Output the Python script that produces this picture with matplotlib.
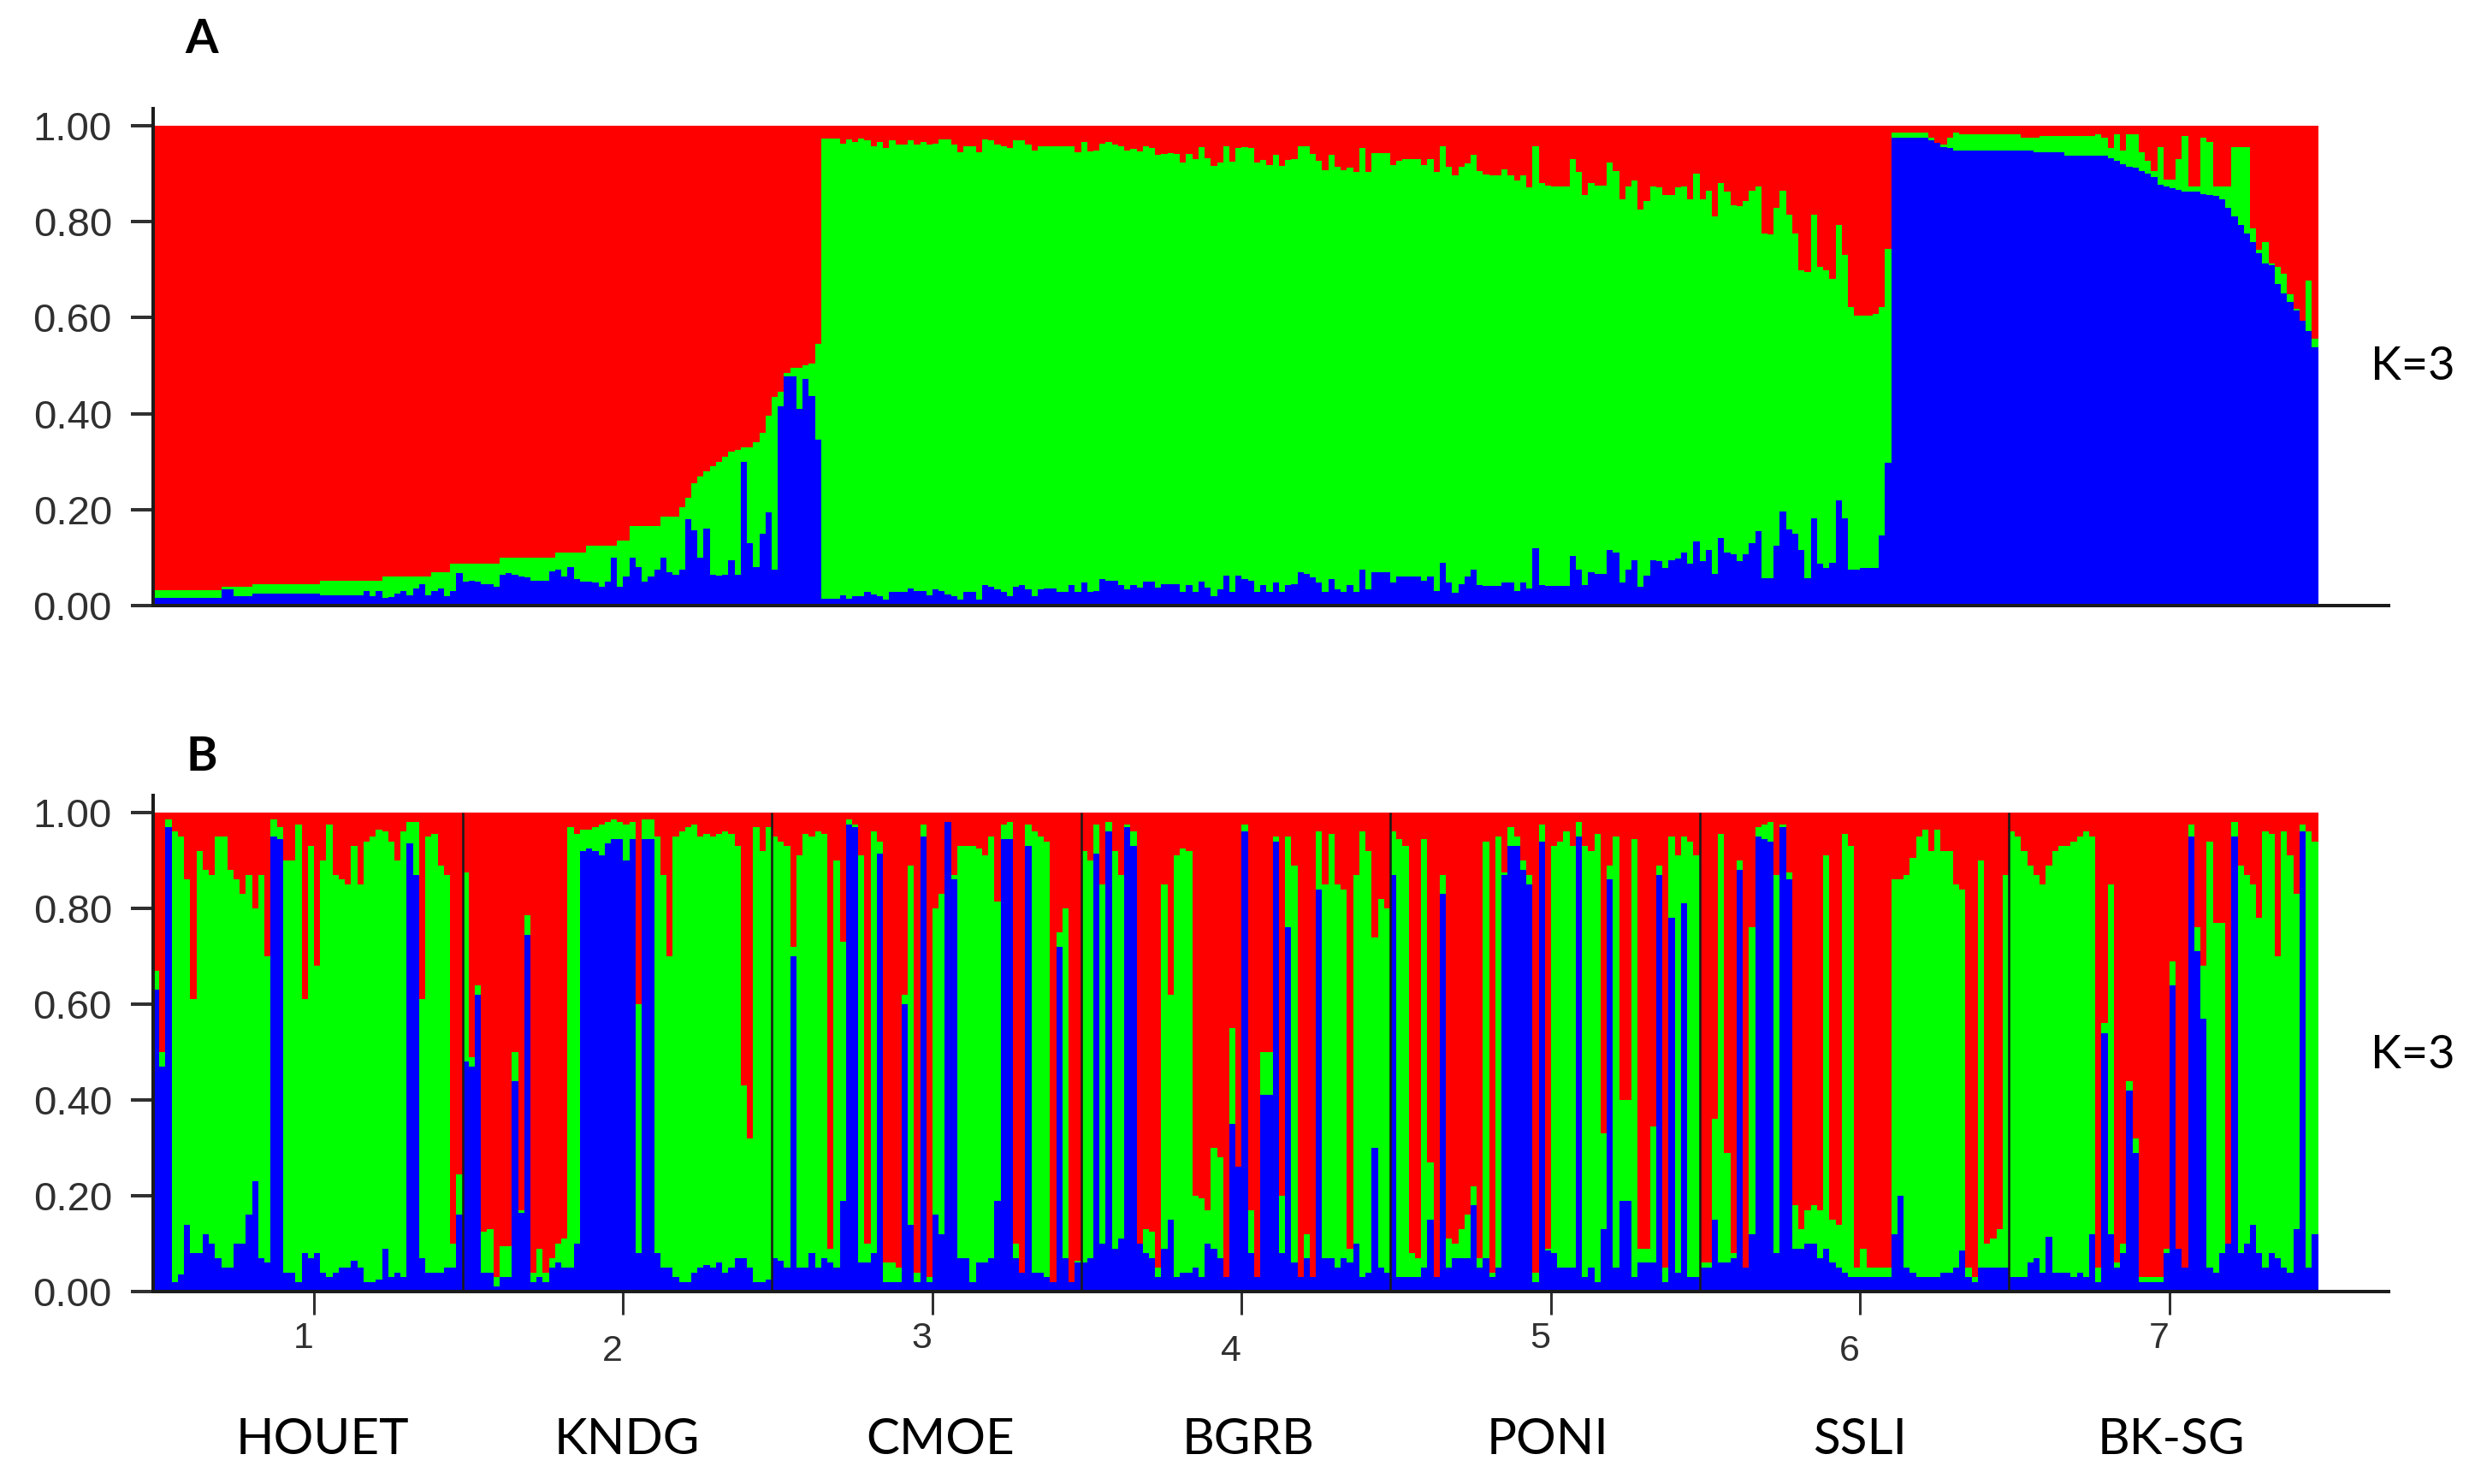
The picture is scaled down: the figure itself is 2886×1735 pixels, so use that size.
import numpy as np
import matplotlib
matplotlib.use("Agg")
import matplotlib.pyplot as plt

# ---------- Panel A: sorted membership (350 individuals) ----------
a_blue_cluster1 = [
 .016,.016,.016,.016,.016,.016,.016,.016,.016,.016,.016,.034,.034,.020,.020,.020,.025,.025,.025,.025,.025,
 .025,.025,.025,.025,.025,.025,.021,.021,.021,.021,.021,.021,.021,.030,.020,.030,.016,.018,.025,.030,
 .022,.035,.045,.022,.030,.035,.020,.030,.067,.050,.052,.050,.045,.045,.040,.065,.067,.065,.060,.058,
 .052,.052,.052,.072,.074,.060,.080,.055,.050,.050,.048,.040,.050,.100,.040,.060,.100,.080,.050,.060,
 .075,.100,.070,.065,.075,.180,.157,.100,.160,.065,.063,.065,.095,.065,.300,.130,.080,.150,.195,.075,
 .415,.477,.477,.410,.473,.437,.346]
a_green_cluster1 = [
 .032,.032,.032,.032,.032,.032,.032,.032,.032,.032,.032,.039,.039,.039,.039,.039,.045,.045,.045,.045,.045,
 .045,.045,.045,.045,.045,.045,.052,.052,.052,.052,.052,.052,.052,.052,.052,.052,.060,.060,.060,.060,
 .060,.060,.060,.060,.070,.070,.070,.087,.087,.087,.087,.087,.087,.087,.087,.100,.100,.100,.100,.100,
 .100,.100,.100,.100,.110,.110,.110,.110,.110,.125,.125,.125,.125,.125,.136,.136,.165,.165,.165,.165,
 .165,.185,.185,.185,.205,.225,.255,.270,.280,.290,.300,.310,.320,.325,.330,.330,.340,.360,.395,.435,
 .445,.485,.495,.495,.500,.505,.545]
a_blue_cluster2 = [
 .014,.014,.014,.022,.014,.020,.020,.028,.024,.020,.013,.028,.028,.028,.035,.030,.030,.022,.034,.031,
 .024,.020,.013,.028,.028,.013,.043,.040,.034,.028,.020,.040,.043,.034,.020,.034,.036,.036,.028,.028,
 .043,.028,.049,.028,.031,.056,.052,.052,.043,.034,.043,.037,.050,.050,.037,.044,.044,.044,.028,.043,
 .028,.050,.037,.020,.034,.063,.028,.063,.055,.052,.028,.043,.028,.049,.028,.043,.044,.069,.066,.058,
 .049,.028,.056,.034,.028,.043,.028,.075,.034,.069,
 .069,.069,.048,.060,.060,.060,.060,.051,.060,.030,.090,.048,.027,.045,.060,.075,.042,.041,.041,.041,
 .048,.048,.030,.048,.036,.119,.042,.041,.041,.041,.041,.104,.075,.042,.069,.066,.066,.116,.110,.048,
 .075,.095,.039,.063,.095,.093,.078,.095,.098,.110,.087,.134,.093,.116,.066,.140,.110,.107,.093,.107,
 .131,.155,.057,.057,.125,.196,.158,.149,.116,.057,.181,.087,.078,.090,.220,.181,.075,.075,.078,.078,
 .078,.147,.297]
a_green_cluster2 = [
 .973,.973,.973,.963,.972,.966,.973,.970,.958,.967,.954,.969,.960,.960,.969,.960,.967,.960,.963,.972,
 .972,.960,.945,.957,.957,.945,.972,.970,.960,.957,.954,.969,.970,.960,.948,.957,.957,.957,.957,.957,
 .957,.945,.967,.947,.949,.963,.966,.960,.957,.948,.951,.947,.957,.954,.939,.941,.943,.942,.924,.942,
 .931,.955,.933,.917,.924,.958,.925,.954,.955,.954,.924,.929,.918,.939,.917,.929,.930,.958,.958,.942,
 .927,.907,.939,.915,.907,.912,.903,.954,.903,.943,
 .943,.943,.918,.927,.930,.930,.930,.918,.930,.903,.958,.915,.897,.915,.921,.939,.906,.899,.896,.896,
 .909,.897,.886,.896,.871,.957,.880,.875,.874,.874,.874,.930,.903,.856,.880,.875,.875,.924,.906,.847,
 .874,.886,.826,.844,.874,.871,.856,.856,.871,.874,.846,.900,.846,.865,.811,.880,.862,.835,.832,.844,
 .865,.874,.776,.773,.829,.865,.814,.776,.699,.696,.814,.705,.699,.681,.794,.731,.622,.604,.604,.604,
 .607,.622,.743]
a_blue_cluster3 = [
 .975,.975,.975,.975,.975,.975,.969,.964,.956,.954,.949,.949,.949,.949,.949,.949,.949,.949,.949,
 .949,.949,.949,.949,.944,.944,.944,.944,.944,.938,.938,.938,.938,.938,.938,.938,.932,.927,.920,.915,
 .913,.906,.900,.893,.877,.873,.869,.866,.862,.862,.862,.857,.855,.853,.847,.829,.811,.793,.775,.757,
 .735,.713,.710,.670,.651,.633,.615,.593,.572,.539]
a_green_cluster3 = [
 .985,.985,.985,.985,.985,.985,.975,.964,.960,.975,.985,.983,.983,.983,.983,.983,.983,.983,.983,
 .983,.983,.975,.975,.975,.978,.978,.978,.978,.978,.978,.978,.978,.978,.983,.975,.953,.983,.949,.983,
 .983,.945,.927,.906,.956,.887,.887,.931,.978,.873,.873,.975,.967,.873,.873,.873,.956,.956,.956,.786,
 .742,.757,.713,.706,.691,.648,.619,.590,.677,.557]

# ---------- Panel B: membership per population (50 individuals each) ----------
b_blue_houet = [.63,.47,.97,.02,.035,.14,.08,.08,.12,.10,.07,.05,.05,.10,.10,.16,.23,.07,.06,.95,
                .945,.04,.04,.02,.08,.07,.08,.04,.03,.04,.05,.05,.065,.05,.02,.02,.025,.09,.03,.04,
                .03,.935,.87,.07,.04,.04,.04,.05,.05,.16]
b_green_houet = [.67,.50,.985,.96,.95,.86,.61,.92,.88,.87,.95,.95,.88,.86,.83,.87,.80,.87,.70,.985,
                 .97,.90,.90,.975,.61,.93,.68,.90,.975,.87,.86,.85,.93,.85,.94,.95,.965,.96,.94,.90,
                 .96,.98,.98,.61,.95,.955,.89,.87,.10,.245]
b_blue_kndg = [.48,.47,.62,.04,.04,.01,.03,.03,.44,.165,.745,.02,.03,.02,.05,.06,.05,.05,.10,.92,
               .925,.92,.91,.935,.945,.945,.90,.945,.08,.945,.945,.08,.05,.05,.03,.02,.02,.04,.05,.055,
               .05,.06,.04,.05,.07,.07,.05,.02,.02,.025]
b_green_kndg = [.875,.49,.64,.125,.13,.03,.095,.095,.50,.17,.785,.04,.09,.04,.07,.10,.11,.97,.955,.965,
                .965,.97,.975,.98,.985,.98,.975,.98,.60,.985,.985,.95,.87,.70,.95,.96,.97,.975,.95,.955,
                .95,.955,.96,.955,.93,.43,.32,.97,.92,.97]
b_blue_cmoe = [.07,.065,.05,.70,.05,.05,.08,.05,.07,.06,.05,.19,.975,.97,.06,.06,.08,.915,.02,.02,
               .02,.60,.14,.02,.95,.02,.16,.12,.98,.86,.07,.07,.02,.06,.06,.07,.19,.945,.945,.07,
               .04,.93,.04,.04,.03,.02,.72,.07,.02,.06]
b_green_cmoe = [.95,.94,.93,.72,.91,.955,.95,.96,.955,.09,.90,.73,.985,.975,.91,.10,.96,.94,.06,.06,
                .05,.62,.89,.04,.975,.03,.80,.83,.98,.87,.93,.93,.93,.925,.91,.95,.815,.975,.98,.10,
                .04,.975,.96,.95,.94,.02,.75,.80,.02,.065]
b_blue_bgrb = [.06,.07,.915,.10,.96,.09,.11,.97,.93,.10,.08,.07,.03,.09,.15,.03,.04,.04,.05,.03,
               .10,.09,.07,.03,.35,.26,.96,.08,.03,.41,.41,.94,.08,.76,.06,.03,.07,.03,.84,.07,
               .07,.05,.07,.06,.10,.03,.04,.30,.05,.04]
b_green_bgrb = [.92,.90,.975,.85,.98,.92,.87,.975,.96,.10,.13,.125,.05,.85,.62,.91,.925,.92,.20,.195,
                .17,.30,.28,.03,.55,.26,.975,.17,.03,.50,.50,.95,.20,.95,.89,.03,.12,.03,.96,.85,
                .955,.85,.84,.09,.87,.96,.92,.74,.82,.80]
b_blue_poni = [.87,.03,.03,.03,.03,.05,.15,.03,.83,.05,.07,.07,.07,.18,.05,.07,.03,.05,.87,.93,
               .93,.88,.85,.02,.94,.085,.08,.05,.05,.05,.95,.03,.05,.02,.13,.86,.05,.19,.19,.03,
               .06,.06,.06,.87,.02,.78,.04,.81,.03,.03]
b_green_poni = [.96,.945,.93,.08,.07,.945,.27,.03,.87,.11,.10,.13,.16,.22,.07,.94,.04,.95,.875,.97,
                .95,.90,.87,.04,.975,.09,.93,.94,.96,.93,.98,.93,.92,.955,.33,.89,.95,.40,.40,.945,
                .09,.09,.345,.89,.05,.95,.91,.95,.94,.91]
b_blue_ssli = [.05,.05,.15,.06,.06,.07,.88,.05,.12,.95,.945,.94,.08,.97,.86,.09,.09,.10,.10,.07,
               .09,.06,.05,.04,.03,.03,.03,.03,.03,.03,.03,.12,.20,.05,.04,.03,.03,.03,.03,.04,
               .04,.05,.085,.03,.02,.05,.05,.05,.05,.05]
b_green_ssli = [.06,.06,.36,.955,.29,.08,.90,.05,.76,.97,.975,.98,.87,.975,.875,.18,.13,.17,.18,.17,
                .91,.15,.14,.955,.93,.05,.09,.05,.05,.05,.05,.86,.86,.87,.905,.95,.965,.92,.965,.92,
                .92,.85,.84,.05,.03,.90,.10,.11,.13,.87]
b_blue_bksg = [.03,.03,.03,.06,.07,.04,.115,.04,.04,.04,.03,.04,.03,.12,.02,.54,.12,.05,.08,.42,
               .29,.02,.02,.02,.02,.08,.64,.09,.05,.95,.71,.57,.05,.04,.08,.10,.95,.08,.10,.14,
               .08,.05,.08,.07,.05,.04,.13,.96,.05,.12]
b_green_bksg = [.96,.95,.92,.89,.87,.85,.89,.92,.93,.93,.94,.95,.96,.95,.05,.56,.85,.06,.10,.44,
                .32,.03,.03,.03,.03,.09,.69,.09,.05,.975,.76,.68,.94,.77,.77,.10,.98,.89,.87,.85,
                .78,.96,.955,.70,.96,.91,.83,.975,.96,.94]

y_ticks = [0.0, 0.2, 0.4, 0.6, 0.8, 1.0]
y_tick_labels = ["0.00", "0.20", "0.40", "0.60", "0.80", "1.00"]
pop_numbers = ["1", "2", "3", "4", "5", "6", "7"]
pop_names = ["HOUET", "KNDG", "CMOE", "BGRB", "PONI", "SSLI", "BK-SG"]

a_blue = np.array(a_blue_cluster1 + a_blue_cluster2 + a_blue_cluster3)
a_green = np.array(a_green_cluster1 + a_green_cluster2 + a_green_cluster3)
b_blue = np.array(b_blue_houet + b_blue_kndg + b_blue_cmoe + b_blue_bgrb + b_blue_poni + b_blue_ssli + b_blue_bksg)
b_green = np.array(b_green_houet + b_green_kndg + b_green_cmoe + b_green_bgrb + b_green_poni + b_green_ssli + b_green_bksg)
assert len(a_blue) == len(a_green) == 350, (len(a_blue), len(a_green))
assert len(b_blue) == len(b_green) == 350, (len(b_blue), len(b_green))

W, H = 2886, 1735
fig = plt.figure(figsize=(W / 100, H / 100), dpi=100, facecolor="white")
PT = 0.72   # points per pixel at dpi 100


def panel(y_one, y_zero, blue, green):
    left, right = 179, 2792
    unit = (y_zero - y_one)
    top = y_one - 0.035 * unit
    ax = fig.add_axes([left / W, 1 - y_zero / H, (right - left) / W, (y_zero - top) / H])
    x = np.arange(len(blue)) + 0.5
    ax.bar(x, 1 - green, bottom=green, width=1.0, color="#ff0000", linewidth=0)
    ax.bar(x, green - blue, bottom=blue, width=1.0, color="#00ff00", linewidth=0)
    ax.bar(x, blue, width=1.0, color="#0000ff", linewidth=0)
    ax.set_xlim(0, (right - left) / 7.23)
    ax.set_ylim(0, 1.035)
    for s in ("top", "right"):
        ax.spines[s].set_visible(False)
    for s in ("left", "bottom"):
        ax.spines[s].set_color("#1c1c1c")
        ax.spines[s].set_linewidth(4 * PT)
    ax.set_yticks(y_ticks)
    ax.set_yticklabels(y_tick_labels, fontfamily="Liberation Sans", fontsize=34, color="#303030")
    ax.tick_params(axis="y", length=26 * PT, width=4 * PT, pad=22 * PT, color="#303030")
    ax.set_xticks([])
    return ax


ax_a = panel(147, 708, a_blue, a_green)
ax_b = panel(950, 1510, b_blue, b_green)

# population separators
ax_b.vlines(np.arange(50, 350, 50), 0, 1, colors="#1a1a1a", linewidth=2.6 * PT)

# population ticks
tick_pos = np.arange(26, 350, 50)
ax_b.set_xticks(tick_pos)
ax_b.set_xticklabels([])
ax_b.tick_params(axis="x", length=27 * PT, width=3 * PT, color="#303030")

for k, lab in enumerate(pop_numbers):
    ax_b.annotate(lab, (tick_pos[k] - 1.7, 0), xycoords=("data", "axes fraction"),
                  xytext=(0, -(55 if k % 2 == 0 else 70) * PT), textcoords="offset points",
                  ha="center", va="center", family="Liberation Sans", fontsize=31, color="#303030")

name_pos = [27.4, 76.6, 127.2, 177.1, 225.5, 275.9, 326.3]
for nx, lab in zip(name_pos, pop_names):
    ax_b.annotate(lab, (nx, 0), xycoords=("data", "axes fraction"),
                  xytext=(0, -173 * PT), textcoords="offset points",
                  ha="center", va="center", family="Lato", fontsize=42, color="black")

fig.text(236 / W, 1 - 46 / H, "A", family="Lato", fontweight="bold", fontsize=40, ha="center", va="center")
fig.text(236 / W, 1 - 885 / H, "B", family="Lato", fontweight="bold", fontsize=40, ha="center", va="center")
fig.text(2820 / W, 1 - 429 / H, "K=3", family="Lato", fontsize=39, ha="center", va="center")
fig.text(2820 / W, 1 - 1233 / H, "K=3", family="Lato", fontsize=39, ha="center", va="center")

fig.savefig("out.png", dpi=100, facecolor="white")
